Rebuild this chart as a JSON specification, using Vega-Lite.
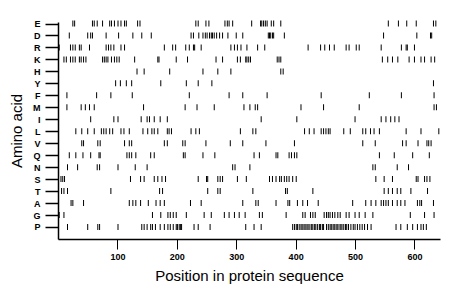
{
"$schema": "https://vega.github.io/schema/vega-lite/v6.json",
"width": 382, "height": 217,
"autosize": {"type": "none"},
"padding": {"left": 58, "top": 22, "right": 20, "bottom": 60},
"background": "white",
"config": {"view": {"stroke": null}},
"datasets": {"ticks": [
{"aa":"E","pos":25},{"aa":"E","pos":28},{"aa":"E","pos":58},{"aa":"E","pos":61},{"aa":"E","pos":66},{"aa":"E","pos":75},{"aa":"E","pos":87},{"aa":"E","pos":90},{"aa":"E","pos":95},{"aa":"E","pos":101},{"aa":"E","pos":106},{"aa":"E","pos":112},{"aa":"E","pos":115},{"aa":"E","pos":134},{"aa":"E","pos":138},{"aa":"E","pos":232},{"aa":"E","pos":236},{"aa":"E","pos":249},{"aa":"E","pos":254},{"aa":"E","pos":281},{"aa":"E","pos":285},{"aa":"E","pos":288},{"aa":"E","pos":294},{"aa":"E","pos":326},{"aa":"E","pos":341},{"aa":"E","pos":343},{"aa":"E","pos":346},{"aa":"E","pos":349},{"aa":"E","pos":352},{"aa":"E","pos":359},{"aa":"E","pos":363},{"aa":"E","pos":375},{"aa":"E","pos":556},{"aa":"E","pos":573},{"aa":"E","pos":587},{"aa":"E","pos":603},{"aa":"E","pos":632},{"aa":"E","pos":636},
{"aa":"D","pos":19},{"aa":"D","pos":50},{"aa":"D","pos":55},{"aa":"D","pos":58},{"aa":"D","pos":81},{"aa":"D","pos":102},{"aa":"D","pos":126},{"aa":"D","pos":141},{"aa":"D","pos":157},{"aa":"D","pos":224},{"aa":"D","pos":228},{"aa":"D","pos":237},{"aa":"D","pos":244},{"aa":"D","pos":248},{"aa":"D","pos":251},{"aa":"D","pos":255},{"aa":"D","pos":258},{"aa":"D","pos":260},{"aa":"D","pos":263},{"aa":"D","pos":267},{"aa":"D","pos":272},{"aa":"D","pos":277},{"aa":"D","pos":286},{"aa":"D","pos":300},{"aa":"D","pos":311},{"aa":"D","pos":354},{"aa":"D","pos":356},{"aa":"D","pos":358},{"aa":"D","pos":361},{"aa":"D","pos":363},{"aa":"D","pos":381},{"aa":"D","pos":548},{"aa":"D","pos":604},{"aa":"D","pos":627},{"aa":"D","pos":629},
{"aa":"R","pos":2},{"aa":"R","pos":21},{"aa":"R","pos":25},{"aa":"R","pos":29},{"aa":"R","pos":36},{"aa":"R","pos":39},{"aa":"R","pos":53},{"aa":"R","pos":81},{"aa":"R","pos":85},{"aa":"R","pos":89},{"aa":"R","pos":94},{"aa":"R","pos":106},{"aa":"R","pos":112},{"aa":"R","pos":179},{"aa":"R","pos":193},{"aa":"R","pos":198},{"aa":"R","pos":215},{"aa":"R","pos":221},{"aa":"R","pos":228},{"aa":"R","pos":230},{"aa":"R","pos":241},{"aa":"R","pos":291},{"aa":"R","pos":297},{"aa":"R","pos":302},{"aa":"R","pos":308},{"aa":"R","pos":318},{"aa":"R","pos":336},{"aa":"R","pos":348},{"aa":"R","pos":421},{"aa":"R","pos":442},{"aa":"R","pos":449},{"aa":"R","pos":457},{"aa":"R","pos":465},{"aa":"R","pos":485},{"aa":"R","pos":490},{"aa":"R","pos":502},{"aa":"R","pos":507},{"aa":"R","pos":544},{"aa":"R","pos":578},{"aa":"R","pos":586},{"aa":"R","pos":588},{"aa":"R","pos":600},
{"aa":"K","pos":10},{"aa":"K","pos":14},{"aa":"K","pos":21},{"aa":"K","pos":25},{"aa":"K","pos":29},{"aa":"K","pos":36},{"aa":"K","pos":39},{"aa":"K","pos":43},{"aa":"K","pos":47},{"aa":"K","pos":75},{"aa":"K","pos":78},{"aa":"K","pos":81},{"aa":"K","pos":84},{"aa":"K","pos":90},{"aa":"K","pos":95},{"aa":"K","pos":99},{"aa":"K","pos":103},{"aa":"K","pos":129},{"aa":"K","pos":168},{"aa":"K","pos":170},{"aa":"K","pos":199},{"aa":"K","pos":218},{"aa":"K","pos":266},{"aa":"K","pos":277},{"aa":"K","pos":302},{"aa":"K","pos":307},{"aa":"K","pos":316},{"aa":"K","pos":318},{"aa":"K","pos":321},{"aa":"K","pos":324},{"aa":"K","pos":369},{"aa":"K","pos":372},{"aa":"K","pos":375},{"aa":"K","pos":546},{"aa":"K","pos":555},{"aa":"K","pos":563},{"aa":"K","pos":572},{"aa":"K","pos":591},{"aa":"K","pos":600},{"aa":"K","pos":611},{"aa":"K","pos":617},{"aa":"K","pos":628},{"aa":"K","pos":634},
{"aa":"H","pos":133},{"aa":"H","pos":145},{"aa":"H","pos":188},{"aa":"H","pos":244},{"aa":"H","pos":269},{"aa":"H","pos":291},{"aa":"H","pos":375},{"aa":"H","pos":379},
{"aa":"Y","pos":97},{"aa":"Y","pos":105},{"aa":"Y","pos":115},{"aa":"Y","pos":124},{"aa":"Y","pos":173},{"aa":"Y","pos":216},{"aa":"Y","pos":236},{"aa":"Y","pos":259},{"aa":"Y","pos":632},
{"aa":"F","pos":15},{"aa":"F","pos":65},{"aa":"F","pos":89},{"aa":"F","pos":125},{"aa":"F","pos":221},{"aa":"F","pos":288},{"aa":"F","pos":311},{"aa":"F","pos":352},{"aa":"F","pos":443},{"aa":"F","pos":524},{"aa":"F","pos":578},{"aa":"F","pos":633},
{"aa":"M","pos":15},{"aa":"M","pos":39},{"aa":"M","pos":46},{"aa":"M","pos":53},{"aa":"M","pos":61},{"aa":"M","pos":144},{"aa":"M","pos":214},{"aa":"M","pos":234},{"aa":"M","pos":263},{"aa":"M","pos":313},{"aa":"M","pos":323},{"aa":"M","pos":332},{"aa":"M","pos":336},{"aa":"M","pos":409},{"aa":"M","pos":447},{"aa":"M","pos":507},{"aa":"M","pos":633},{"aa":"M","pos":637},
{"aa":"I","pos":55},{"aa":"I","pos":94},{"aa":"I","pos":101},{"aa":"I","pos":140},{"aa":"I","pos":150},{"aa":"I","pos":154},{"aa":"I","pos":162},{"aa":"I","pos":172},{"aa":"I","pos":184},{"aa":"I","pos":342},{"aa":"I","pos":402},{"aa":"I","pos":500},{"aa":"I","pos":544},{"aa":"I","pos":552},{"aa":"I","pos":560},{"aa":"I","pos":567},{"aa":"I","pos":574},
{"aa":"L","pos":30},{"aa":"L","pos":40},{"aa":"L","pos":50},{"aa":"L","pos":61},{"aa":"L","pos":73},{"aa":"L","pos":77},{"aa":"L","pos":81},{"aa":"L","pos":87},{"aa":"L","pos":92},{"aa":"L","pos":106},{"aa":"L","pos":111},{"aa":"L","pos":120},{"aa":"L","pos":143},{"aa":"L","pos":151},{"aa":"L","pos":158},{"aa":"L","pos":162},{"aa":"L","pos":168},{"aa":"L","pos":184},{"aa":"L","pos":187},{"aa":"L","pos":191},{"aa":"L","pos":224},{"aa":"L","pos":232},{"aa":"L","pos":238},{"aa":"L","pos":307},{"aa":"L","pos":328},{"aa":"L","pos":333},{"aa":"L","pos":415},{"aa":"L","pos":423},{"aa":"L","pos":431},{"aa":"L","pos":443},{"aa":"L","pos":447},{"aa":"L","pos":451},{"aa":"L","pos":455},{"aa":"L","pos":458},{"aa":"L","pos":481},{"aa":"L","pos":492},{"aa":"L","pos":513},{"aa":"L","pos":518},{"aa":"L","pos":526},{"aa":"L","pos":532},{"aa":"L","pos":541},{"aa":"L","pos":586},{"aa":"L","pos":611},{"aa":"L","pos":641},
{"aa":"V","pos":40},{"aa":"V","pos":43},{"aa":"V","pos":67},{"aa":"V","pos":71},{"aa":"V","pos":112},{"aa":"V","pos":120},{"aa":"V","pos":124},{"aa":"V","pos":179},{"aa":"V","pos":184},{"aa":"V","pos":210},{"aa":"V","pos":214},{"aa":"V","pos":249},{"aa":"V","pos":290},{"aa":"V","pos":311},{"aa":"V","pos":350},{"aa":"V","pos":398},{"aa":"V","pos":513},{"aa":"V","pos":534},{"aa":"V","pos":580},{"aa":"V","pos":586},{"aa":"V","pos":606},{"aa":"V","pos":621},{"aa":"V","pos":624},{"aa":"V","pos":628},
{"aa":"Q","pos":19},{"aa":"Q","pos":30},{"aa":"Q","pos":42},{"aa":"Q","pos":55},{"aa":"Q","pos":69},{"aa":"Q","pos":71},{"aa":"Q","pos":116},{"aa":"Q","pos":120},{"aa":"Q","pos":124},{"aa":"Q","pos":131},{"aa":"Q","pos":156},{"aa":"Q","pos":162},{"aa":"Q","pos":211},{"aa":"Q","pos":214},{"aa":"Q","pos":244},{"aa":"Q","pos":264},{"aa":"Q","pos":330},{"aa":"Q","pos":339},{"aa":"Q","pos":367},{"aa":"Q","pos":370},{"aa":"Q","pos":389},{"aa":"Q","pos":393},{"aa":"Q","pos":398},{"aa":"Q","pos":402},{"aa":"Q","pos":541},{"aa":"Q","pos":566},{"aa":"Q","pos":597},{"aa":"Q","pos":625},
{"aa":"N","pos":16},{"aa":"N","pos":33},{"aa":"N","pos":66},{"aa":"N","pos":70},{"aa":"N","pos":101},{"aa":"N","pos":130},{"aa":"N","pos":150},{"aa":"N","pos":294},{"aa":"N","pos":298},{"aa":"N","pos":323},{"aa":"N","pos":530},{"aa":"N","pos":534},{"aa":"N","pos":571},{"aa":"N","pos":590},
{"aa":"S","pos":5},{"aa":"S","pos":8},{"aa":"S","pos":11},{"aa":"S","pos":122},{"aa":"S","pos":139},{"aa":"S","pos":145},{"aa":"S","pos":162},{"aa":"S","pos":168},{"aa":"S","pos":175},{"aa":"S","pos":181},{"aa":"S","pos":236},{"aa":"S","pos":250},{"aa":"S","pos":252},{"aa":"S","pos":269},{"aa":"S","pos":273},{"aa":"S","pos":277},{"aa":"S","pos":302},{"aa":"S","pos":317},{"aa":"S","pos":356},{"aa":"S","pos":361},{"aa":"S","pos":367},{"aa":"S","pos":373},{"aa":"S","pos":376},{"aa":"S","pos":381},{"aa":"S","pos":385},{"aa":"S","pos":389},{"aa":"S","pos":395},{"aa":"S","pos":401},{"aa":"S","pos":535},{"aa":"S","pos":549},{"aa":"S","pos":563},{"aa":"S","pos":603},{"aa":"S","pos":606},{"aa":"S","pos":617},{"aa":"S","pos":621},{"aa":"S","pos":626},
{"aa":"T","pos":6},{"aa":"T","pos":10},{"aa":"T","pos":16},{"aa":"T","pos":89},{"aa":"T","pos":171},{"aa":"T","pos":176},{"aa":"T","pos":252},{"aa":"T","pos":269},{"aa":"T","pos":273},{"aa":"T","pos":328},{"aa":"T","pos":383},{"aa":"T","pos":386},{"aa":"T","pos":429},{"aa":"T","pos":549},{"aa":"T","pos":556},{"aa":"T","pos":563},{"aa":"T","pos":571},{"aa":"T","pos":577},{"aa":"T","pos":594},{"aa":"T","pos":622},
{"aa":"A","pos":22},{"aa":"A","pos":25},{"aa":"A","pos":43},{"aa":"A","pos":120},{"aa":"A","pos":126},{"aa":"A","pos":131},{"aa":"A","pos":139},{"aa":"A","pos":152},{"aa":"A","pos":165},{"aa":"A","pos":172},{"aa":"A","pos":179},{"aa":"A","pos":223},{"aa":"A","pos":241},{"aa":"A","pos":311},{"aa":"A","pos":333},{"aa":"A","pos":337},{"aa":"A","pos":367},{"aa":"A","pos":387},{"aa":"A","pos":390},{"aa":"A","pos":403},{"aa":"A","pos":412},{"aa":"A","pos":420},{"aa":"A","pos":438},{"aa":"A","pos":496},{"aa":"A","pos":518},{"aa":"A","pos":527},{"aa":"A","pos":535},{"aa":"A","pos":544},{"aa":"A","pos":548},{"aa":"A","pos":552},{"aa":"A","pos":556},{"aa":"A","pos":563},{"aa":"A","pos":571},{"aa":"A","pos":577},{"aa":"A","pos":584},{"aa":"A","pos":605},{"aa":"A","pos":609},{"aa":"A","pos":612},{"aa":"A","pos":632},
{"aa":"G","pos":2},{"aa":"G","pos":10},{"aa":"G","pos":159},{"aa":"G","pos":173},{"aa":"G","pos":185},{"aa":"G","pos":189},{"aa":"G","pos":194},{"aa":"G","pos":199},{"aa":"G","pos":216},{"aa":"G","pos":246},{"aa":"G","pos":258},{"aa":"G","pos":280},{"aa":"G","pos":288},{"aa":"G","pos":297},{"aa":"G","pos":305},{"aa":"G","pos":315},{"aa":"G","pos":339},{"aa":"G","pos":344},{"aa":"G","pos":384},{"aa":"G","pos":412},{"aa":"G","pos":416},{"aa":"G","pos":425},{"aa":"G","pos":429},{"aa":"G","pos":433},{"aa":"G","pos":448},{"aa":"G","pos":452},{"aa":"G","pos":455},{"aa":"G","pos":458},{"aa":"G","pos":462},{"aa":"G","pos":466},{"aa":"G","pos":471},{"aa":"G","pos":475},{"aa":"G","pos":485},{"aa":"G","pos":490},{"aa":"G","pos":500},{"aa":"G","pos":507},{"aa":"G","pos":517},{"aa":"G","pos":530},{"aa":"G","pos":593},{"aa":"G","pos":617},{"aa":"G","pos":633},
{"aa":"P","pos":16},{"aa":"P","pos":50},{"aa":"P","pos":67},{"aa":"P","pos":70},{"aa":"P","pos":101},{"aa":"P","pos":141},{"aa":"P","pos":145},{"aa":"P","pos":150},{"aa":"P","pos":156},{"aa":"P","pos":159},{"aa":"P","pos":164},{"aa":"P","pos":172},{"aa":"P","pos":179},{"aa":"P","pos":185},{"aa":"P","pos":189},{"aa":"P","pos":194},{"aa":"P","pos":199},{"aa":"P","pos":201},{"aa":"P","pos":204},{"aa":"P","pos":206},{"aa":"P","pos":208},{"aa":"P","pos":229},{"aa":"P","pos":236},{"aa":"P","pos":256},{"aa":"P","pos":316},{"aa":"P","pos":330},{"aa":"P","pos":342},{"aa":"P","pos":395},{"aa":"P","pos":398},{"aa":"P","pos":401},{"aa":"P","pos":403},{"aa":"P","pos":406},{"aa":"P","pos":409},{"aa":"P","pos":411},{"aa":"P","pos":414},{"aa":"P","pos":416},{"aa":"P","pos":419},{"aa":"P","pos":421},{"aa":"P","pos":424},{"aa":"P","pos":427},{"aa":"P","pos":429},{"aa":"P","pos":432},{"aa":"P","pos":434},{"aa":"P","pos":437},{"aa":"P","pos":440},{"aa":"P","pos":442},{"aa":"P","pos":445},{"aa":"P","pos":447},{"aa":"P","pos":452},{"aa":"P","pos":455},{"aa":"P","pos":458},{"aa":"P","pos":460},{"aa":"P","pos":463},{"aa":"P","pos":465},{"aa":"P","pos":468},{"aa":"P","pos":470},{"aa":"P","pos":473},{"aa":"P","pos":476},{"aa":"P","pos":478},{"aa":"P","pos":481},{"aa":"P","pos":484},{"aa":"P","pos":486},{"aa":"P","pos":489},{"aa":"P","pos":493},{"aa":"P","pos":497},{"aa":"P","pos":500},{"aa":"P","pos":504},{"aa":"P","pos":508},{"aa":"P","pos":512},{"aa":"P","pos":516},{"aa":"P","pos":521},{"aa":"P","pos":527},{"aa":"P","pos":569},{"aa":"P","pos":577},{"aa":"P","pos":588},{"aa":"P","pos":597},{"aa":"P","pos":605},{"aa":"P","pos":611},{"aa":"P","pos":615},{"aa":"P","pos":620}
]},
"data": {"name": "ticks"},
"mark": {"type": "tick", "orient": "vertical", "size": 6, "thickness": 1, "color": "black", "opacity": 1},
"encoding": {
  "x": {"field": "pos", "type": "quantitative",
    "scale": {"domain": [0, 643], "nice": false, "zero": false},
    "axis": {"title": "Position in protein sequence", "values": [100, 200, 300, 400, 500, 600], "grid": false,
      "tickSize": 10, "tickColor": "black", "tickWidth": 1, "domainColor": "black", "domainWidth": 1.5,
      "labelFont": "Liberation Sans", "labelFontSize": 9, "labelFontWeight": "bold", "labelColor": "black", "labelPadding": 3,
      "titleFont": "Liberation Sans", "titleFontSize": 15, "titleFontWeight": "normal", "titleColor": "black", "titlePadding": 7}},
  "y": {"field": "aa", "type": "nominal",
    "scale": {"type": "point", "domain": ["E","D","R","K","H","Y","F","M","I","L","V","Q","N","S","T","A","G","P"], "padding": 0.565, "align": 0.111},
    "axis": {"title": "Amino acid", "grid": false,
      "tickSize": 13, "tickColor": "black", "tickWidth": 1.5, "domainColor": "black", "domainWidth": 1.5,
      "labelFont": "Liberation Sans", "labelFontSize": 9, "labelFontWeight": "bold", "labelColor": "black", "labelPadding": 5,
      "titleFont": "Liberation Sans", "titleFontSize": 15, "titleFontWeight": "normal", "titleColor": "black", "titlePadding": 8}}
}
}
